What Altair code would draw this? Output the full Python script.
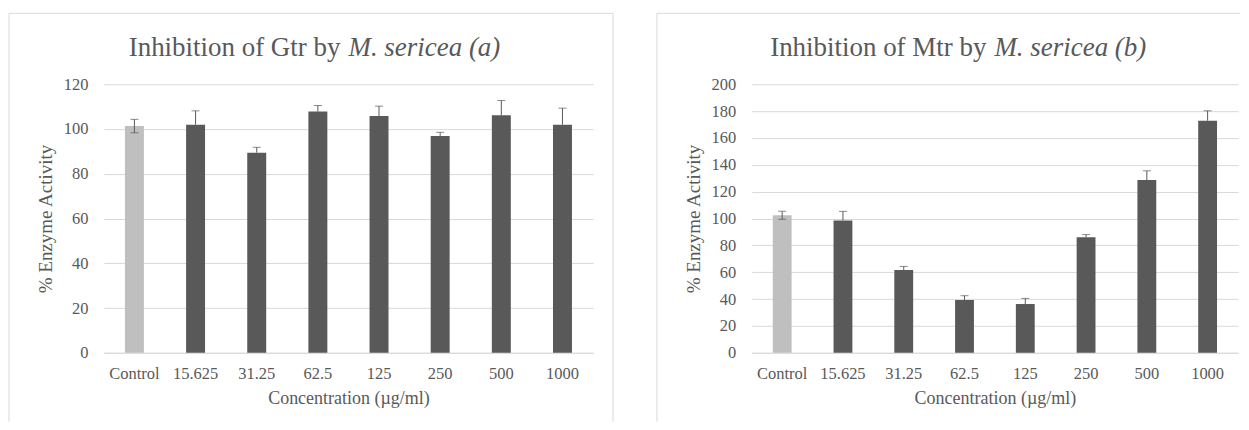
import altair as alt
import pandas as pd

categories = ["Control", "15.625", "31.25", "62.5", "125", "250", "500", "1000"]

gtr_mean = [101.3, 101.9, 89.4, 107.8, 105.8, 96.9, 106.1, 101.9]
gtr_err = [3.0, 6.2, 2.4, 2.7, 4.4, 1.6, 6.6, 7.4]

mtr_mean = [102.4, 98.6, 61.6, 39.3, 36.3, 86.0, 128.6, 172.8]
mtr_err = [3.0, 6.7, 2.7, 3.2, 4.2, 2.0, 6.9, 7.4]

gtr_ticks = [0, 20, 40, 60, 80, 100, 120]
mtr_ticks = [0, 20, 40, 60, 80, 100, 120, 140, 160, 180, 200]

FONT = "Liberation Serif"
TXT = "#595959"
GRID = "#D9D9D9"
BAR = "#595959"
CTRL = "#BFBFBF"
H = 269


def panel(mean, err, ymax, ticks, plain, italic, split, width, frame_right):
    df = pd.DataFrame({"cat": categories, "mean": mean, "err": err})
    df["hi"] = df["mean"] + df["err"]
    df["lo"] = [m - e if c == "Control" else m for c, m, e in zip(categories, mean, err)]
    df["kind"] = ["control" if c == "Control" else "sample" for c in categories]

    xaxis = alt.Axis(
        title="Concentration (µg/ml)", labelAngle=0, labelFont=FONT, labelFontSize=16.5,
        labelColor=TXT, labelPadding=13, ticks=False, domainColor=GRID, domainWidth=1,
        titleFont=FONT, titleFontSize=18, titleColor=TXT, titleFontWeight="normal",
        titleY=51, titleBaseline="alphabetic", grid=False,
    )
    yaxis = alt.Axis(
        values=ticks, title="% Enzyme Activity", labelFont=FONT, labelFontSize=16.5,
        labelColor=TXT, labelPadding=16, ticks=False, domain=False, grid=True,
        gridColor=GRID, gridWidth=1, titleFont=FONT, titleFontSize=19, titleColor=TXT,
        titleFontWeight="normal", titleX=-58, titleY=H / 2, titleBaseline="middle",
    )
    xs = alt.Scale(paddingInner=0.69, paddingOuter=0.345)
    ys = alt.Scale(domain=[0, ymax], nice=False)

    def X():
        return alt.X("cat:N", sort=categories, scale=xs, axis=xaxis)

    base = alt.Chart(df)
    bars = base.mark_bar().encode(
        x=X(),
        y=alt.Y("mean:Q", scale=ys, axis=yaxis),
        color=alt.Color("kind:N", scale=alt.Scale(domain=["control", "sample"], range=[CTRL, BAR]), legend=None),
    )
    rule = base.mark_rule(color=BAR, strokeWidth=1).encode(
        x=X(), y=alt.Y("lo:Q", scale=ys, axis=yaxis), y2="hi:Q"
    )
    cap_hi = base.mark_tick(color=BAR, size=8, thickness=1).encode(
        x=X(), y=alt.Y("hi:Q", scale=ys, axis=yaxis)
    )
    cap_lo = base.transform_filter(alt.datum.kind == "control").mark_tick(color=BAR, size=8, thickness=1).encode(
        x=X(), y=alt.Y("lo:Q", scale=ys, axis=yaxis)
    )

    one = alt.Chart(pd.DataFrame({"k": [0]}))
    top = one.mark_rule(color=GRID, strokeWidth=1).encode(
        x=alt.value(-95), x2=alt.value(frame_right), y=alt.value(-71)
    )
    left = one.mark_rule(color=GRID, strokeWidth=1).encode(
        x=alt.value(-95), y=alt.value(-71), y2=alt.value(338)
    )
    layers = [top, left]
    if frame_right >= width + 10:
        layers.append(one.mark_rule(color=GRID, strokeWidth=1).encode(
            x=alt.value(frame_right), y=alt.value(-71), y2=alt.value(338)
        ))
    t1 = one.mark_text(font=FONT, fontSize=27, color=TXT, align="right", baseline="alphabetic").encode(
        x=alt.value(split - 4), y=alt.value(-28), text=alt.value(plain)
    )
    t2 = one.mark_text(font=FONT, fontSize=27, color=TXT, align="left", baseline="alphabetic",
                       fontStyle="italic").encode(
        x=alt.value(split + 4), y=alt.value(-28), text=alt.value(italic)
    )
    return alt.layer(bars, rule, cap_hi, cap_lo, *layers, t1, t2).properties(width=width, height=H)


left_panel = panel(gtr_mean, gtr_err, 120, gtr_ticks, "Inhibition of Gtr by", "M. sericea (a)", 241, 490, 510)
right_panel = panel(mtr_mean, mtr_err, 200, mtr_ticks, "Inhibition of Mtr by", "M. sericea (b)", 239, 487, 489)

chart = alt.hconcat(left_panel, right_panel, spacing=159, bounds="flush").properties(
    padding={"left": 0, "top": 4, "right": 0, "bottom": 0}
).configure_view(stroke=None)

chart.save("out.html", embed_options={"renderer": "svg", "actions": False})
